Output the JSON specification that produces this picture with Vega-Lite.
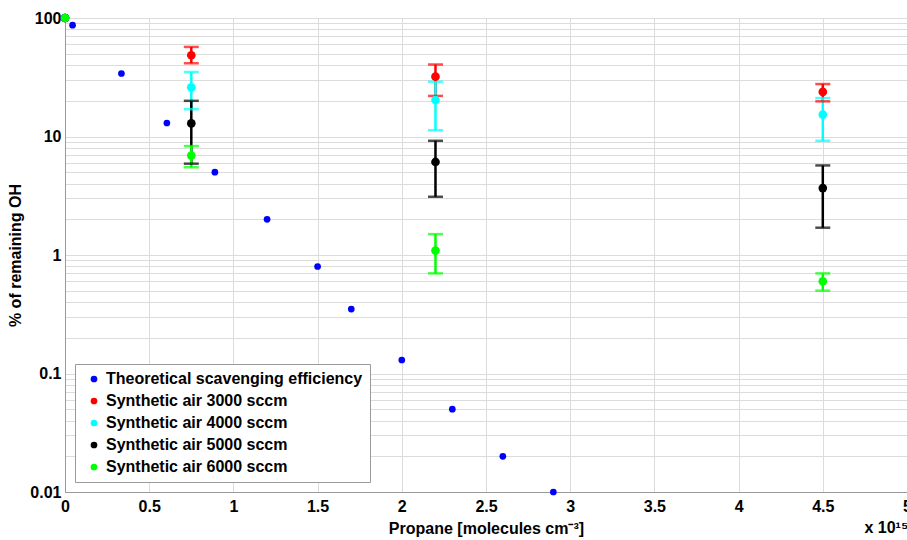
{
  "$schema": "https://vega.github.io/schema/vega-lite/v6.json",
  "width": 842,
  "height": 474,
  "autosize": {"type": "none"},
  "padding": {"left": 65, "top": 18, "right": 0, "bottom": 48},
  "config": {
    "font": "Liberation Sans",
    "view": {"stroke": "#9a9a9a", "strokeWidth": 1},
    "axis": {
      "labelFont": "Liberation Sans",
      "labelFontWeight": "bold",
      "labelFontSize": 16,
      "labelColor": "#000",
      "titleFont": "Liberation Sans",
      "titleFontWeight": "bold",
      "titleFontSize": 16,
      "titleColor": "#000",
      "gridColor": "#dcdcdc",
      "gridWidth": 1,
      "domainColor": "#9a9a9a",
      "tickSize": 0
    }
  },
  "title": {
    "text": "x 10¹⁵",
    "orient": "bottom",
    "anchor": "end",
    "fontSize": 16,
    "fontWeight": "bold",
    "font": "Liberation Sans",
    "color": "#000",
    "offset": -16,
    "dx": -3
  },
  "data": {
    "values": [
      {"series": "Theoretical scavenging efficiency", "x": 0, "y": 100},
      {"series": "Theoretical scavenging efficiency", "x": 0.045, "y": 87},
      {"series": "Theoretical scavenging efficiency", "x": 0.335, "y": 34},
      {"series": "Theoretical scavenging efficiency", "x": 0.605, "y": 13},
      {"series": "Theoretical scavenging efficiency", "x": 0.89, "y": 5},
      {"series": "Theoretical scavenging efficiency", "x": 1.2, "y": 2},
      {"series": "Theoretical scavenging efficiency", "x": 1.5, "y": 0.8},
      {"series": "Theoretical scavenging efficiency", "x": 1.7, "y": 0.35},
      {"series": "Theoretical scavenging efficiency", "x": 2.0, "y": 0.13},
      {"series": "Theoretical scavenging efficiency", "x": 2.3, "y": 0.05},
      {"series": "Theoretical scavenging efficiency", "x": 2.6, "y": 0.02},
      {"series": "Theoretical scavenging efficiency", "x": 2.9, "y": 0.01},
      {"series": "Synthetic air 3000 sccm", "x": 0, "y": 100},
      {"series": "Synthetic air 3000 sccm", "x": 0.75, "y": 48.5, "lo": 41.5, "hi": 57},
      {"series": "Synthetic air 3000 sccm", "x": 2.2, "y": 32, "lo": 22, "hi": 40.5},
      {"series": "Synthetic air 3000 sccm", "x": 4.5, "y": 23.8, "lo": 19.8, "hi": 27.7},
      {"series": "Synthetic air 4000 sccm", "x": 0, "y": 100},
      {"series": "Synthetic air 4000 sccm", "x": 0.75, "y": 26, "lo": 17, "hi": 35},
      {"series": "Synthetic air 4000 sccm", "x": 2.2, "y": 20.3, "lo": 11.3, "hi": 29},
      {"series": "Synthetic air 4000 sccm", "x": 4.5, "y": 15.3, "lo": 9.2, "hi": 21.1},
      {"series": "Synthetic air 5000 sccm", "x": 0, "y": 100},
      {"series": "Synthetic air 5000 sccm", "x": 0.75, "y": 12.9, "lo": 5.9, "hi": 20},
      {"series": "Synthetic air 5000 sccm", "x": 2.2, "y": 6.1, "lo": 3.1, "hi": 9.2},
      {"series": "Synthetic air 5000 sccm", "x": 4.5, "y": 3.67, "lo": 1.7, "hi": 5.7},
      {"series": "Synthetic air 6000 sccm", "x": 0, "y": 100},
      {"series": "Synthetic air 6000 sccm", "x": 0.75, "y": 6.9, "lo": 5.5, "hi": 8.3},
      {"series": "Synthetic air 6000 sccm", "x": 2.2, "y": 1.09, "lo": 0.7, "hi": 1.5},
      {"series": "Synthetic air 6000 sccm", "x": 4.5, "y": 0.6, "lo": 0.5, "hi": 0.7}
    ]
  },
  "encoding": {
    "x": {
      "field": "x",
      "type": "quantitative",
      "scale": {"domain": [0, 5], "nice": false, "zero": false},
      "axis": {
        "title": "Propane [molecules cm⁻³]",
        "values": [0, 0.5, 1, 1.5, 2, 2.5, 3, 3.5, 4, 4.5, 5],
        "format": "~g",
        "labelPadding": 6,
        "titlePadding": 6,
        "labelFlush": false
      }
    },
    "color": {
      "field": "series",
      "type": "nominal",
      "scale": {
        "domain": ["Theoretical scavenging efficiency", "Synthetic air 3000 sccm", "Synthetic air 4000 sccm", "Synthetic air 5000 sccm", "Synthetic air 6000 sccm"],
        "range": ["#0000ff", "#ff0000", "#00ffff", "#000000", "#00ff00"]
      },
      "legend": {
        "title": null,
        "orient": "bottom-left",
        "offset": 10,
        "symbolType": "circle",
        "symbolSize": 45,
        "symbolStrokeWidth": 0,
        "symbolOpacity": 1,
        "labelFont": "Liberation Sans",
        "labelFontWeight": "bold",
        "labelFontSize": 16,
        "labelColor": "#000",
        "labelLimit": 400,
        "rowPadding": 6,
        "symbolOffset": 4,
        "padding": 7,
        "strokeColor": "#9a9a9a",
        "fillColor": "#ffffff",
        "cornerRadius": 0
      }
    }
  },
  "layer": [
    {
      "transform": [{"filter": "isValid(datum.lo)"}],
      "mark": {"type": "rule", "strokeWidth": 2.5},
      "encoding": {
        "y": {"field": "lo", "type": "quantitative", "scale": {"type": "log", "domain": [0.01, 100], "nice": false}},
        "y2": {"field": "hi"}
      }
    },
    {
      "transform": [{"filter": "isValid(datum.lo)"}],
      "mark": {"type": "tick", "orient": "horizontal", "size": 15, "thickness": 2.5},
      "encoding": {
        "y": {"field": "lo", "type": "quantitative"}
      }
    },
    {
      "transform": [{"filter": "isValid(datum.lo)"}],
      "mark": {"type": "tick", "orient": "horizontal", "size": 15, "thickness": 2.5},
      "encoding": {
        "y": {"field": "hi", "type": "quantitative"}
      }
    },
    {
      "transform": [{"filter": "datum.series == 'Theoretical scavenging efficiency'"}],
      "mark": {"type": "point", "shape": "circle", "filled": true, "opacity": 1, "size": 45},
      "encoding": {
        "y": {"field": "y", "type": "quantitative"}
      }
    },
    {
      "transform": [{"filter": "datum.series != 'Theoretical scavenging efficiency'"}],
      "mark": {"type": "point", "shape": "circle", "filled": true, "opacity": 1, "size": 75},
      "encoding": {
        "y": {
          "field": "y",
          "type": "quantitative",
          "axis": {
            "title": "% of remaining OH",
            "values": [0.01, 0.02, 0.03, 0.04, 0.05, 0.06, 0.07, 0.08, 0.09, 0.1, 0.2, 0.3, 0.4, 0.5, 0.6, 0.7, 0.8, 0.9, 1, 2, 3, 4, 5, 6, 7, 8, 9, 10, 20, 30, 40, 50, 60, 70, 80, 90, 100],
            "format": "~g",
            "labelExpr": "abs(log(datum.value)/LN10 - round(log(datum.value)/LN10)) < 0.000001 ? datum.label : ''",
            "labelPadding": 4,
            "titlePadding": 6
          }
        }
      }
    }
  ]
}
